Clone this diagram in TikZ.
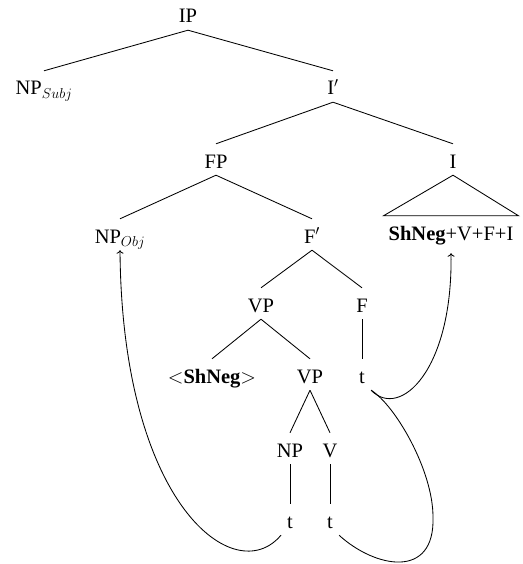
\RequirePackage{fix-cm}
\documentclass[tikz,border=0pt]{standalone}
\usepackage{fontspec}
\setmainfont{Liberation Serif}
\usetikzlibrary{arrows.meta}
\begin{document}
\begin{tikzpicture}[x=1pt,y=-1pt,
  lbl/.style={anchor=base,font=\fontsize{20.5}{24}\selectfont,text height=21pt,text depth=4pt,inner ysep=3pt,inner xsep=2pt},
  tr/.style={lbl,inner xsep=6pt},
  edge/.style={line width=0.85pt},
  mv/.style={line width=0.85pt},
  tip/.style={-{To[length=3.5pt,width=7pt]}}]
\useasboundingbox (0,0) rectangle (522,564);
\node[lbl] (ip) at (188,23) {IP};
\node[lbl] (nps) at (44,95) {NP$_{Subj}$};
\node[lbl] (ib) at (333,95) {I$'$};
\node[lbl] (fp) at (216,168) {FP};
\node[lbl] (i) at (453,168) {I};
\node[lbl] (npo) at (120,243) {NP$_{Obj}$};
\node[lbl] (fb) at (312,243) {F$'$};
\node[lbl,inner xsep=5pt,text depth=10pt] (sh) at (451,240) {\textbf{ShNeg}+V+F+I};
\node[lbl] (vp) at (261,312) {VP};
\node[lbl] (f) at (362,312) {F};
\node[lbl] (neg) at (212,383) {$<$\textbf{ShNeg}$>$};
\node[lbl] (vp2) at (310,383) {VP};
\node[tr] (tf) at (362,383) {t};
\node[lbl] (np) at (290,457) {NP};
\node[lbl] (v) at (330,457) {V};
\node[tr] (tnp) at (290,528) {t};
\node[tr] (tv) at (330,528) {t};
\draw[edge] (ip.south) -- (nps.north);
\draw[edge] (ip.south) -- (ib.north);
\draw[edge] (ib.south) -- (fp.north);
\draw[edge] (ib.south) -- (i.north);
\draw[edge] (fp.south) -- (npo.north);
\draw[edge] (fp.south) -- (fb.north);
\draw[edge] (i.south) -- (sh.north west) -- (sh.north east) -- cycle;
\draw[edge] (fb.south) -- (vp.north);
\draw[edge] (fb.south) -- (f.north);
\draw[edge] (vp.south) -- (neg.north);
\draw[edge] (vp.south) -- (vp2.north);
\draw[edge] (f.south) -- (tf.north);
\draw[edge] (vp2.south) -- (np.north);
\draw[edge] (vp2.south) -- (v.north);
\draw[edge] (np.south) -- (tnp.north);
\draw[edge] (v.south) -- (tv.north);
\draw[mv,tip] (tnp.south west) .. controls (235,590) and (122,505) .. (npo.south);
\draw[mv,tip] (tf.south east) .. controls (400,420) and (453,370) .. (sh.south);
\draw[mv] (tv.south east) .. controls (375,568) and (435,580) .. (433,517) .. controls (433,470) and (395,405) .. (tf.south east);
\end{tikzpicture}
\end{document}
